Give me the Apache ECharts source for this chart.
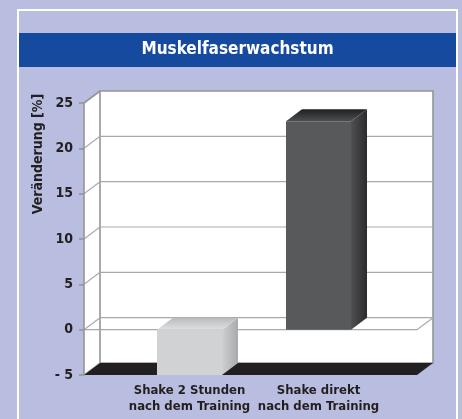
<!DOCTYPE html>
<html>
<head>
<meta charset="utf-8">
<script src="https://cdn.jsdelivr.net/npm/echarts@6/dist/echarts.min.js"></script>
<style>
html, body { margin: 0; padding: 0; }
#chart { width: 462px; height: 419px; }
</style>
</head>
<body>
<div id="chart"></div>
<script>
var categories = ['Shake 2 Stunden\nnach dem Training', 'Shake direkt\nnach dem Training'];
var values = [-5, 23];
var yTicks = [-5, 0, 5, 10, 15, 20, 25];
var yMin = -5, yMax = 25, yStep = 5;

var depthX = 16, depthY = -12;
var font = "'Liberation Sans Narrow', 'DejaVu Sans Condensed', sans-serif";
var ink = '#231f20';
var wallLine = '#a7a9ac';
var frameLine = '#939598';

var barColors = [
  { front: '#d1d2d4', top: ['#b9babc', '#dedfe0'], side: ['#cfd0d2', '#a8a9ab'] },
  { front: '#58595b', top: ['#1f1f20', '#4d4e50'], side: ['#4f5052', '#2b2b2c'] }
];

var myChart = echarts.init(document.getElementById('chart'));

function renderWall(params, api) {
  var dx = depthX, dy = depthY;
  var fl = api.coord([0, yMin]), fr = api.coord([1, yMin]);
  var tl = api.coord([0, yMax]), tr = api.coord([1, yMax]);
  var zl = api.coord([0, 0]), zr = api.coord([1, 0]);
  var children = [];
  // left side wall
  children.push({
    type: 'polygon',
    shape: { points: [[tl[0], tl[1]], [tl[0] + dx, tl[1] + dy], [fl[0] + dx, fl[1] + dy], [fl[0], fl[1]]] },
    style: { fill: '#fff' }
  });
  // back wall
  children.push({
    type: 'rect',
    shape: { x: tl[0] + dx, y: tl[1] + dy, width: tr[0] - tl[0], height: fl[1] - tl[1] },
    style: { fill: '#fff', stroke: frameLine, lineWidth: 1.6 }
  });
  // grid lines + diagonals
  yTicks.forEach(function (v) {
    var a = api.coord([0, v]), b = api.coord([1, v]);
    if (v > yMin && v < yMax) {
      children.push({ type: 'line', shape: { x1: a[0] + dx, y1: a[1] + dy, x2: b[0] + dx, y2: b[1] + dy }, style: { stroke: wallLine, lineWidth: 1.2 } });
    }
    children.push({ type: 'line', shape: { x1: a[0], y1: a[1], x2: a[0] + dx, y2: a[1] + dy }, style: { stroke: v === yMax ? frameLine : wallLine, lineWidth: v === yMax ? 1.6 : 1.2 } });
  });
  // zero plane front edge
  children.push({ type: 'polyline', shape: { points: [[zl[0], zl[1]], [zr[0], zr[1]], [zr[0] + dx, zr[1] + dy]] }, style: { stroke: wallLine, lineWidth: 1.2, fill: null } });
  // floor
  children.push({
    type: 'polygon',
    shape: { points: [[fl[0], fl[1]], [fl[0] + dx, fl[1] + dy], [fr[0] + dx, fr[1] + dy], [fr[0], fr[1]]] },
    style: { fill: ink }
  });
  return { type: 'group', children: children };
}

function renderBar(params, api) {
  var dx = depthX, dy = depthY;
  var i = api.value(0), v = api.value(1);
  var base = api.coord([i, 0]), end = api.coord([i, v]);
  var half = api.size([1, 0])[0] * 0.252;
  var xl = base[0] - half, xr = base[0] + half;
  var yt = Math.min(base[1], end[1]), yb = Math.max(base[1], end[1]);
  var c = barColors[params.dataIndex];
  return {
    type: 'group',
    children: [
      {
        type: 'polygon',
        shape: { points: [[xr, yt], [xr + dx, yt + dy], [xr + dx, yb + dy], [xr, yb]] },
        style: { fill: new echarts.graphic.LinearGradient(0, 0, 1, 0, [{ offset: 0, color: c.side[0] }, { offset: 1, color: c.side[1] }]) }
      },
      {
        type: 'polygon',
        shape: { points: [[xl, yt], [xl + dx, yt + dy], [xr + dx, yt + dy], [xr, yt]] },
        style: { fill: new echarts.graphic.LinearGradient(0, 0, 0, 1, [{ offset: 0, color: c.top[0] }, { offset: 1, color: c.top[1] }]) }
      },
      {
        type: 'rect',
        shape: { x: xl, y: yt, width: xr - xl, height: yb - yt },
        style: { fill: c.front }
      }
    ]
  };
}

var option = {
  backgroundColor: '#b9bee0',
  animation: false,
  graphic: [
    { type: 'rect', z: -10, shape: { x: 18, y: 10, width: 439, height: 430 }, style: { fill: 'none', stroke: '#ffffff', lineWidth: 2 } },
    { type: 'rect', z: -9, shape: { x: 19, y: 33, width: 437, height: 34 }, style: { fill: '#164a9e' } },
    {
      type: 'text', z: -8, x: 237.5, y: 50,
      style: { text: 'Muskelfaserwachstum', fill: '#ffffff', font: 'bold 17px ' + font, textAlign: 'center', textVerticalAlign: 'middle' }
    },
    {
      type: 'text', x: 38, y: 154, rotation: Math.PI / 2,
      style: { text: 'Veränderung [%]', fill: ink, font: 'bold 14px ' + font, textAlign: 'center', textVerticalAlign: 'middle' }
    }
  ],
  grid: [
    { left: 84, right: 45, top: 103, bottom: 44 },
    { left: 125, right: 79, top: 103, bottom: 44 }
  ],
  xAxis: [
    { type: 'value', gridIndex: 0, min: 0, max: 1, show: false },
    {
      type: 'category', gridIndex: 1, data: categories,
      axisLine: { show: false }, axisTick: { show: false }, splitLine: { show: false },
      axisLabel: { interval: 0, margin: 8, color: ink, fontFamily: font, fontWeight: 'bold', fontSize: 13, lineHeight: 16 }
    }
  ],
  yAxis: [
    {
      type: 'value', gridIndex: 0, min: yMin, max: yMax, interval: yStep, z: 5,
      axisLine: { show: true, lineStyle: { color: frameLine, width: 1.6 } },
      axisTick: { show: true, length: 5, lineStyle: { color: frameLine, width: 1.6 } },
      splitLine: { show: false },
      axisLabel: {
        margin: 11, color: ink, fontFamily: font, fontWeight: 'bold', fontSize: 14,
        formatter: function (v) { return v < 0 ? '- ' + Math.abs(v) : String(v); }
      }
    },
    { type: 'value', gridIndex: 1, min: yMin, max: yMax, interval: yStep, show: false }
  ],
  series: [
    {
      type: 'custom', name: 'wall', xAxisIndex: 0, yAxisIndex: 0, z: 1,
      renderItem: renderWall, data: [[0, 0]], silent: true
    },
    {
      type: 'custom', name: 'Veränderung', xAxisIndex: 1, yAxisIndex: 1, z: 2,
      renderItem: renderBar,
      data: values.map(function (v, i) { return [i, v]; })
    }
  ]
};
myChart.setOption(option);
</script>
</body>
</html>
